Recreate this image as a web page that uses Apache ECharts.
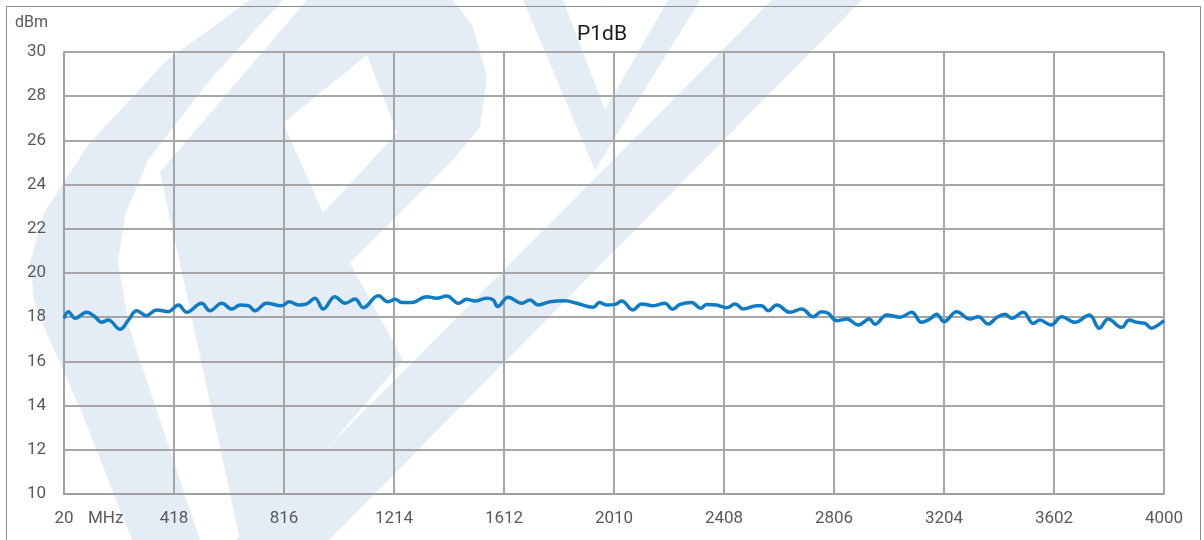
<!DOCTYPE html>
<html>
<head>
<meta charset="utf-8">
<script src="https://cdn.jsdelivr.net/npm/echarts@6/dist/echarts.min.js"></script>
<style>
html,body{margin:0;padding:0;background:#fff;}
#chart{width:1204px;height:540px;}
</style>
</head>
<body>
<div id="chart"></div>
<script>
// Frequency (MHz) and P1dB (dBm)
var freqMHz = [20,36,60,102,132,156,180,223,253,283,319,355,397,434,464,518,548,591,627,657,687,711,753,808,835,868,898,928,958,1000,1037,1073,1103,1157,1193,1218,1242,1278,1332,1368,1405,1447,1477,1507,1549,1573,1589,1627,1676,1706,1736,1778,1833,1875,1935,1957,1984,2014,2038,2078,2110,2152,2194,2222,2249,2291,2324,2345,2381,2418,2448,2478,2526,2544,2568,2599,2647,2689,2731,2761,2785,2816,2852,2894,2934,2954,2997,3045,3087,3123,3153,3177,3204,3250,3298,3328,3364,3394,3425,3449,3491,3527,3551,3591,3630,3678,3730,3766,3798,3847,3874,3901,3931,3955,3979,4000];
var p1dB = [17.95,18.25,17.95,18.22,18.02,17.77,17.87,17.45,17.87,18.29,18.07,18.33,18.25,18.55,18.22,18.63,18.29,18.63,18.37,18.55,18.52,18.29,18.63,18.52,18.70,18.55,18.60,18.86,18.37,18.93,18.63,18.82,18.43,18.97,18.70,18.81,18.67,18.66,18.93,18.86,18.96,18.63,18.81,18.73,18.86,18.78,18.48,18.90,18.63,18.78,18.55,18.70,18.75,18.63,18.45,18.66,18.55,18.58,18.73,18.33,18.60,18.52,18.63,18.36,18.58,18.67,18.40,18.58,18.55,18.43,18.60,18.37,18.52,18.52,18.29,18.55,18.22,18.37,18.02,18.25,18.18,17.84,17.92,17.65,17.92,17.68,18.10,18.00,18.22,17.77,17.92,18.13,17.80,18.25,17.92,18.02,17.69,17.98,18.13,17.95,18.22,17.72,17.87,17.65,18.02,17.77,18.10,17.50,17.92,17.54,17.87,17.77,17.72,17.50,17.65,17.85];
var xMin = 20, xMax = 4000, xStep = 398;
var yMin = 10, yMax = 30, yStep = 2;
var titleText = 'P1dB';
var yUnit = 'dBm';
var xUnit = 'MHz';

var seriesData = freqMHz.map(function (f, i) { return [f, p1dB[i]]; });

var wm = '#e4edf6';
var FONT = 'Roboto';
function wmPoly(pts, fill, z) {
  return { type: 'polygon', z: z, silent: true, shape: { points: pts }, style: { fill: fill } };
}
var chart = echarts.init(document.getElementById('chart'));
chart.setOption({
  backgroundColor: '#ffffff',
  animation: false,
  title: {
    text: titleText, left: 'center', top: 19,
    textStyle: { fontFamily: FONT, fontSize: 21, fontWeight: 'normal', color: '#1a1a1a' }
  },
  graphic: [
    // watermark (decorative logo)
    wmPoly([[250,0],[165,62],[88,145],[44,213],[30,262],[34,300],[44,327],[82,413],[132,540],[200,540],[160,420],[130,330],[118,262],[125,215],[148,160],[214,75],[283,0]], wm, -10),
    wmPoly([[160,172],[307,0],[453,0],[473,27],[487,77],[480,127],[453,160],[350,263],[403,360],[300,480],[265,540],[240,540]], wm, -10),
    wmPoly([[236,540],[329,540],[862,0],[772,0]], wm, -10),
    wmPoly([[523,0],[563,0],[605,110],[668,0],[700,0],[595,170]], wm, -10),
    wmPoly([[283,123],[367,55],[397,133],[323,213]], '#ffffff', -9),
    { type: 'rect', z: 100, silent: true,
      shape: { x: 6.5, y: 6.5, width: 1194, height: 560 },
      style: { fill: 'none', stroke: '#8c8c8c', lineWidth: 1 } },
    { type: 'text', left: 15, top: 15, z: 100,
      style: { text: yUnit, fontFamily: FONT, fontSize: 16, fill: '#595959' } },
    { type: 'text', left: 88, top: 510, z: 100,
      style: { text: xUnit, fontFamily: FONT, fontSize: 17, fill: '#595959' } }
  ],
  grid: { left: 64, right: 40, top: 52, bottom: 46, containLabel: false },
  xAxis: {
    type: 'value', min: xMin, max: xMax, interval: xStep,
    axisLine: { show: true, lineStyle: { color: '#a0a0a0', width: 2 } },
    axisTick: { show: false },
    axisLabel: { margin: 16, fontFamily: FONT, fontSize: 17, color: '#595959', showMinLabel: true, showMaxLabel: true,
      formatter: function (v) { return String(Math.round(v)); } },
    splitLine: { show: true, lineStyle: { color: '#a6a6a6', width: 2 } }
  },
  yAxis: {
    type: 'value', min: yMin, max: yMax, interval: yStep,
    axisLine: { show: true, lineStyle: { color: '#a0a0a0', width: 2 } },
    axisTick: { show: false },
    axisLabel: { margin: 18, fontFamily: FONT, fontSize: 17, color: '#595959' },
    splitLine: { show: true, lineStyle: { color: '#a6a6a6', width: 2 } }
  },
  series: [{
    type: 'line', data: seriesData, smooth: 0.4, symbol: 'none',
    lineStyle: { color: '#0f7bc4', width: 3.5 }
  }]
});
</script>
</body>
</html>
